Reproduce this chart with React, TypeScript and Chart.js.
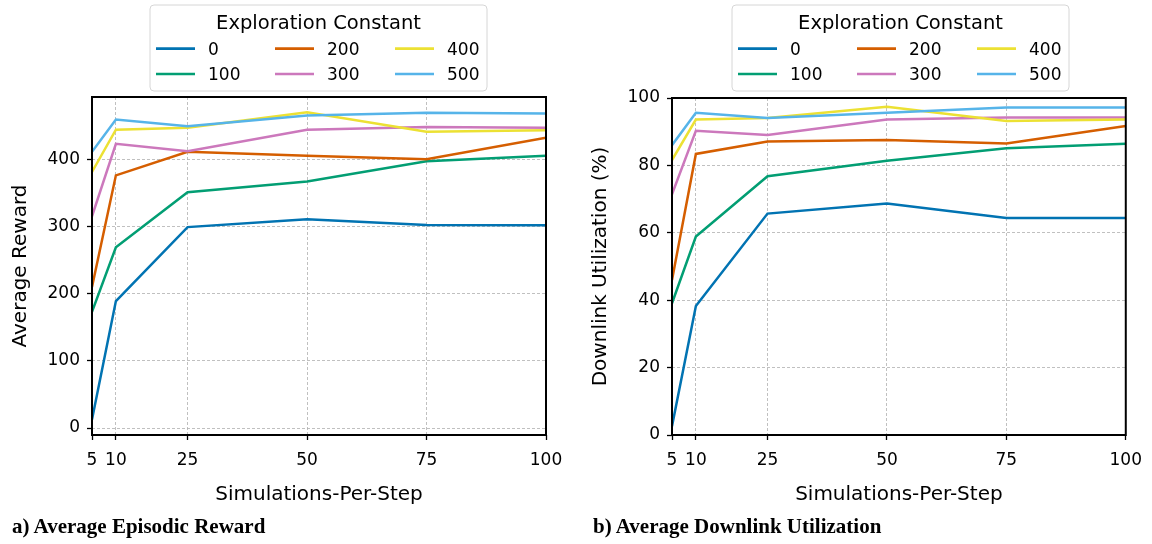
import React, { useEffect, useRef } from 'react';
import { Chart, registerables } from 'chart.js';

Chart.register(...registerables);

// ---------- data ----------
const simulations = [5, 10, 25, 50, 75, 100];
const explorationConstants = ['0', '100', '200', '300', '400', '500'];
const seriesColors = ['#0173b2', '#029e73', '#d55e00', '#cc78bc', '#ece133', '#56b4e9'];

const reward0 = [12.5, 189, 299, 310.5, 302, 301.6];
const reward100 = [173, 269, 351, 367, 397, 405];
const reward200 = [210, 376, 411, 405, 400, 432];
const reward300 = [315, 423, 412, 444, 448, 447];
const reward400 = [381, 444, 447, 469.8, 441, 443];
const reward500 = [411, 459, 449, 465, 469, 468];

const util0 = [2.6, 38.3, 65.7, 68.7, 64.4, 64.4];
const util100 = [39.1, 58.9, 76.8, 81.4, 85.1, 86.4];
const util200 = [46, 83.4, 87.1, 87.5, 86.5, 91.7];
const util300 = [71.4, 90.3, 89, 93.6, 94.2, 94.2];
const util400 = [81.6, 93.6, 94.1, 97.4, 93.2, 93.6];
const util500 = [86, 95.6, 94.1, 95.6, 97.2, 97.2];

const xTicks = [5, 10, 25, 50, 75, 100];
const rewardTicks = [0, 100, 200, 300, 400];
const utilTicks = [0, 20, 40, 60, 80, 100];

const legendTitle = 'Exploration Constant';
const xTitle = 'Simulations-Per-Step';
const rewardTitle = 'Average Reward';
const utilTitle = 'Downlink Utilization (%)';
const captionA = 'a) Average Episodic Reward';
const captionB = 'b) Average Downlink Utilization';

const FONT = "'DejaVu Sans', sans-serif";

interface PanelSpec {
  series: number[][];
  yTicks: number[];
  yMin: number;
  yMax: number;
  yTitle: string;
  yAxisWidth: number;
  yTitlePad: number;
  padTop: number;
  padRight: number;
  legendLeft: number;
}

function buildConfig(spec: PanelSpec): any {
  const datasets = spec.series.map((vals, i) => ({
    label: explorationConstants[i],
    data: simulations.map((x, j) => ({ x, y: vals[j] })),
    borderColor: seriesColors[i],
    backgroundColor: seriesColors[i],
    borderWidth: 2.5,
    pointRadius: 0,
    fill: false,
    tension: 0,
    order: -i,
  }));

  const frame = {
    id: 'frame',
    afterDatasetsDraw(chart: any) {
      const { ctx, chartArea: a } = chart;
      ctx.save();
      ctx.strokeStyle = '#000';
      ctx.lineWidth = 2;
      ctx.strokeRect(a.left, a.top, a.right - a.left, a.bottom - a.top);
      ctx.restore();
    },
  };

  const legend = {
    id: 'expLegend',
    afterDraw(chart: any) {
      const ctx = chart.ctx;
      const bx = spec.legendLeft;
      const by = 5;
      const bw = 337;
      const bh = 86;
      ctx.save();
      ctx.beginPath();
      const r = 4;
      ctx.moveTo(bx + r, by);
      ctx.lineTo(bx + bw - r, by);
      ctx.arcTo(bx + bw, by, bx + bw, by + r, r);
      ctx.lineTo(bx + bw, by + bh - r);
      ctx.arcTo(bx + bw, by + bh, bx + bw - r, by + bh, r);
      ctx.lineTo(bx + r, by + bh);
      ctx.arcTo(bx, by + bh, bx, by + bh - r, r);
      ctx.lineTo(bx, by + r);
      ctx.arcTo(bx, by, bx + r, by, r);
      ctx.closePath();
      ctx.fillStyle = 'rgba(255,255,255,0.8)';
      ctx.fill();
      ctx.strokeStyle = '#d6d6d6';
      ctx.lineWidth = 1;
      ctx.stroke();

      ctx.fillStyle = '#000';
      ctx.textBaseline = 'alphabetic';
      ctx.textAlign = 'center';
      ctx.font = `19.5px ${FONT}`;
      ctx.fillText(legendTitle, bx + bw / 2, 28.5);

      ctx.textAlign = 'left';
      ctx.font = `17px ${FONT}`;
      const colOff = [0, 119, 239];
      const rowLineY = [48.7, 74];
      const rowTextY = [55, 80];
      chart.data.datasets.forEach((ds: any, i: number) => {
        const col = Math.floor(i / 2);
        const row = i % 2;
        const x0 = bx + 6 + colOff[col];
        ctx.strokeStyle = ds.borderColor;
        ctx.lineWidth = 2.7;
        ctx.beginPath();
        ctx.moveTo(x0, rowLineY[row]);
        ctx.lineTo(x0 + 39, rowLineY[row]);
        ctx.stroke();
        ctx.fillStyle = '#000';
        ctx.fillText(ds.label, x0 + 52, rowTextY[row]);
      });
      ctx.restore();
    },
  };

  return {
    type: 'line',
    data: { datasets },
    plugins: [frame, legend],
    options: {
      responsive: false,
      animation: false,
      devicePixelRatio: 1,
      layout: { padding: { left: 0, top: spec.padTop, right: spec.padRight, bottom: 0 } },
      plugins: { legend: { display: false }, tooltip: { enabled: false }, title: { display: false } },
      scales: {
        x: {
          type: 'linear',
          min: 5,
          max: 100,
          afterBuildTicks: (s: any) => {
            s.ticks = xTicks.map((v) => ({ value: v }));
          },
          afterFit: (s: any) => {
            s.height = 544 - 435;
          },
          ticks: {
            autoSkip: false,
            maxRotation: 0,
            minRotation: 0,
            padding: 10,
            color: '#000',
            font: { family: FONT, size: 17 },
            callback: (v: any) => String(v),
          },
          grid: {
            color: '#b0b0b0',
            lineWidth: 0.8,
            drawTicks: true,
            tickLength: 5,
            tickColor: '#000',
            tickWidth: 1.3,
          },
          border: { display: false, dash: [3, 2] },
          title: {
            display: true,
            text: xTitle,
            color: '#000',
            font: { family: FONT, size: 20 },
            padding: { top: 0, bottom: 37.5 },
          },
        },
        y: {
          type: 'linear',
          min: spec.yMin,
          max: spec.yMax,
          afterBuildTicks: (s: any) => {
            s.ticks = spec.yTicks.map((v) => ({ value: v }));
          },
          afterFit: (s: any) => {
            s.width = spec.yAxisWidth;
          },
          ticks: {
            padding: 7,
            color: '#000',
            font: { family: FONT, size: 17 },
            callback: (v: any) => String(v),
          },
          grid: {
            color: '#b0b0b0',
            lineWidth: 0.8,
            drawTicks: true,
            tickLength: 5,
            tickColor: '#000',
            tickWidth: 1.3,
          },
          border: { display: false, dash: [3, 2] },
          title: {
            display: true,
            text: spec.yTitle,
            color: '#000',
            font: { family: FONT, size: 20 },
            padding: { top: spec.yTitlePad, bottom: 0 },
          },
        },
      },
    },
  };
}

function Panel({ left, spec }: { left: number; spec: PanelSpec }) {
  const ref = useRef<HTMLCanvasElement>(null);
  useEffect(() => {
    if (!ref.current) return;
    const chart = new Chart(ref.current, buildConfig(spec));
    return () => chart.destroy();
  }, []);
  return (
    <canvas
      ref={ref}
      width={576}
      height={544}
      style={{ position: 'absolute', left, top: 0, width: 576, height: 544 }}
    />
  );
}

const rewardSpec: PanelSpec = {
  series: [reward0, reward100, reward200, reward300, reward400, reward500],
  yTicks: rewardTicks,
  yMin: -10.4,
  yMax: 492.6,
  yTitle: rewardTitle,
  yAxisWidth: 92,
  yTitlePad: 8.5,
  padTop: 97,
  padRight: 30,
  legendLeft: 150,
};

const utilSpec: PanelSpec = {
  series: [util0, util100, util200, util300, util400, util500],
  yTicks: utilTicks,
  yMin: 0,
  yMax: 100,
  yTitle: utilTitle,
  yAxisWidth: 96,
  yTitlePad: 13,
  padTop: 98,
  padRight: 26,
  legendLeft: 156,
};

const captionStyle: React.CSSProperties = {
  position: 'absolute',
  top: 516.4,
  fontFamily: "'Liberation Serif', 'Times New Roman', serif",
  fontWeight: 'bold',
  fontSize: 21,
  lineHeight: '21px',
  whiteSpace: 'nowrap',
  color: '#000',
};

export default function App() {
  return (
    <div style={{ position: 'absolute', left: 0, top: 0, width: 1152, height: 544, background: '#fff', overflow: 'hidden' }}>
      <Panel left={0} spec={rewardSpec} />
      <Panel left={576} spec={utilSpec} />
      <div style={{ ...captionStyle, left: 12 }}>{captionA}</div>
      <div style={{ ...captionStyle, left: 593 }}>{captionB}</div>
    </div>
  );
}
